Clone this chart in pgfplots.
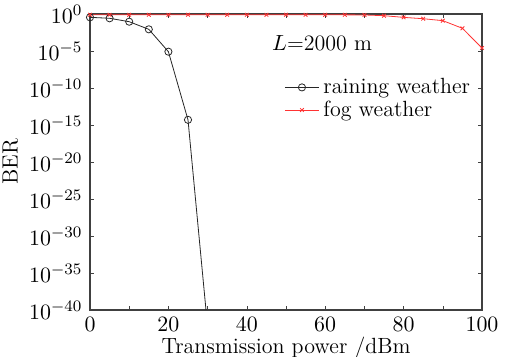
\documentclass[border=0pt]{standalone}
\usepackage{pgfplots}
\pgfplotsset{compat=1.18}
\begin{document}
\fontsize{11}{13}\selectfont
\begin{tikzpicture}
\useasboundingbox (-45pt,-23.5pt) rectangle (212pt,155pt);
\begin{axis}[
  at={(0,0)}, anchor=south west,
  scale only axis, width=196pt, height=148pt,
  ymode=log, xmin=0, xmax=100, ymin=1e-40, ymax=1,
  xtick={0,20,...,100}, minor xtick={10,30,...,90},
  minor tick length=2pt, major tick length=2pt,
  ytick={1,1e-5,1e-10,1e-15,1e-20,1e-25,1e-30,1e-35,1e-40},
  yminorticks=false,
  log number format basis/.code 2 args={$10^{\pgfmathprintnumber{#2}}$},
  axis line style={black!75, semithick},
  tick style={black!75},
  tick label style={font=\fontsize{11}{13}\selectfont},
  xlabel={Transmission power /dBm}, ylabel={BER},
  xlabel style={yshift=5pt},
  ylabel style={yshift=-2pt},
  legend style={at={(0.49,0.805)}, anchor=north west, draw=none, fill=none,
    font=\fontsize{11}{12}\selectfont, row sep=-2pt, inner sep=1pt},
  legend cell align=left,
]
\addplot[black!85, mark=o, mark size=1.8pt, thin] coordinates {
 (0,0.355) (5,0.263) (10,0.091) (15,8.5e-3) (20,8.1e-6) (25,5e-15) (30,5e-43)};
\addlegendentry{raining weather}
\addplot[red!80, mark=x, mark size=1.3pt, thin] coordinates {
 (0,0.78) (5,0.78) (10,0.78) (15,0.78) (20,0.78) (25,0.78) (30,0.78) (35,0.78)
 (40,0.78) (45,0.78) (50,0.78) (55,0.78) (60,0.78) (65,0.77) (70,0.74)
 (75,0.59) (80,0.35) (85,0.23) (90,0.126) (95,0.0117) (100,2.5e-5)};
\addlegendentry{fog weather}
\node[anchor=west] at (axis cs:44.5,1.3e-4) {$L$=2000 m};
\end{axis}
\end{tikzpicture}
\end{document}
